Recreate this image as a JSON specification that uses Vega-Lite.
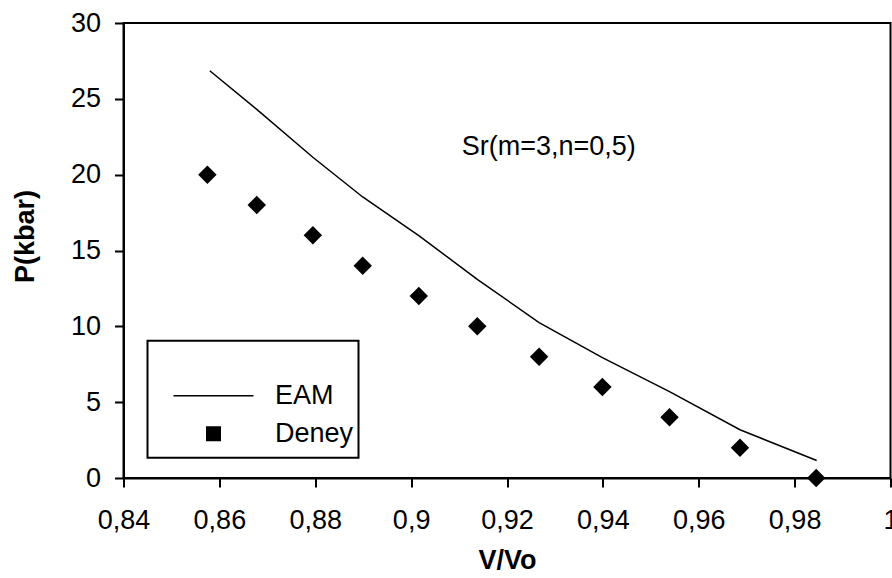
{
  "$schema": "https://vega.github.io/schema/vega-lite/v6.json",
  "width": 767,
  "height": 455,
  "autosize": {"type": "none"},
  "padding": {"left": 123.5, "top": 23, "right": 1.5, "bottom": 100},
  "background": "white",
  "datasets": {
    "eam": [
      {"v": 0.8580, "p": 26.85, "series": "EAM"},
      {"v": 0.8678, "p": 24.3, "series": "EAM"},
      {"v": 0.8795, "p": 21.15, "series": "EAM"},
      {"v": 0.8899, "p": 18.53, "series": "EAM"},
      {"v": 0.9016, "p": 15.98, "series": "EAM"},
      {"v": 0.9138, "p": 13.1, "series": "EAM"},
      {"v": 0.9267, "p": 10.25, "series": "EAM"},
      {"v": 0.9399, "p": 7.94, "series": "EAM"},
      {"v": 0.9539, "p": 5.7, "series": "EAM"},
      {"v": 0.9686, "p": 3.18, "series": "EAM"},
      {"v": 0.9846, "p": 1.15, "series": "EAM"}
    ],
    "deney": [
      {"v": 0.8575, "p": 20, "series": "Deney"},
      {"v": 0.8678, "p": 18, "series": "Deney"},
      {"v": 0.8795, "p": 16, "series": "Deney"},
      {"v": 0.8899, "p": 14, "series": "Deney"},
      {"v": 0.9016, "p": 12, "series": "Deney"},
      {"v": 0.9138, "p": 10, "series": "Deney"},
      {"v": 0.9267, "p": 8, "series": "Deney"},
      {"v": 0.9399, "p": 6, "series": "Deney"},
      {"v": 0.9539, "p": 4, "series": "Deney"},
      {"v": 0.9686, "p": 2, "series": "Deney"},
      {"v": 0.9845, "p": 0, "series": "Deney"}
    ],
    "note": [
      {"v": 0.9287, "p": 21.8, "label": "Sr(m=3,n=0,5)"}
    ]
  },
  "config": {
    "font": "Liberation Sans",
    "view": {"stroke": "black", "strokeWidth": 2},
    "axis": {
      "grid": false,
      "domainColor": "black",
      "domainWidth": 2,
      "tickColor": "black",
      "tickWidth": 2,
      "tickSize": 9,
      "labelFont": "Liberation Sans",
      "labelFontSize": 27,
      "labelColor": "black",
      "titleFont": "Liberation Sans",
      "titleFontSize": 27,
      "titleFontWeight": "bold",
      "titleColor": "black"
    }
  },
  "layer": [
    {
      "data": {"name": "eam"},
      "mark": {"type": "line", "strokeWidth": 1.5},
      "encoding": {
        "x": {
          "field": "v",
          "type": "quantitative",
          "scale": {"domain": [0.84, 1], "nice": false, "zero": false},
          "axis": {
            "title": "V/Vo",
            "values": [0.84, 0.86, 0.88, 0.9, 0.92, 0.94, 0.96, 0.98, 1],
            "labelExpr": "replace(format(datum.value, '.2~f'), '.', ',')",
            "labelPadding": 20,
            "labelFlush": false,
            "labelOverlap": false,
            "titlePadding": 14
          }
        },
        "y": {
          "field": "p",
          "type": "quantitative",
          "scale": {"domain": [0, 30], "nice": false},
          "axis": {
            "title": "P(kbar)",
            "values": [0, 5, 10, 15, 20, 25, 30],
            "labelPadding": 14,
            "titleX": -84,
            "titleY": 213
          }
        },
        "color": {
          "field": "series",
          "type": "nominal",
          "scale": {"domain": ["EAM", "Deney"], "range": ["black", "black"]},
          "legend": {
            "orient": "none",
            "legendX": 24,
            "legendY": 317.7,
            "title": " ",
            "titleFontSize": 27,
            "titlePadding": 4,
            "padding": 5,
            "strokeColor": "black",
            "fillColor": "white",
            "labelFont": "Liberation Sans",
            "labelFontSize": 27,
            "labelColor": "black",
            "labelOffset": 48,
            "symbolOffset": 47.5,
            "clipHeight": 38,
            "rowPadding": 0,
            "symbolSize": 6400,
            "encode": {
              "legend": {"update": {"strokeWidth": {"value": 2}}},
              "symbols": {
                "update": {
                  "shape": {"signal": "datum.value === 'EAM' ? 'stroke' : 'square'"},
                  "size": {"signal": "datum.value === 'EAM' ? 6400 : 225"},
                  "stroke": {"value": "black"},
                  "fill": {"value": "black"},
                  "strokeWidth": {"signal": "datum.value === 'EAM' ? 1.5 : 0"},
                  "opacity": {"value": 1}
                }
              }
            }
          }
        }
      }
    },
    {
      "data": {"name": "deney"},
      "mark": {"type": "point", "shape": "diamond", "filled": true, "size": 340, "opacity": 1},
      "encoding": {
        "x": {"field": "v", "type": "quantitative"},
        "y": {"field": "p", "type": "quantitative"},
        "color": {"field": "series", "type": "nominal"}
      }
    },
    {
      "data": {"name": "note"},
      "mark": {"type": "text", "font": "Liberation Sans", "fontSize": 27, "align": "center", "baseline": "middle", "color": "black"},
      "encoding": {
        "x": {"field": "v", "type": "quantitative"},
        "y": {"field": "p", "type": "quantitative"},
        "text": {"field": "label"}
      }
    }
  ]
}
